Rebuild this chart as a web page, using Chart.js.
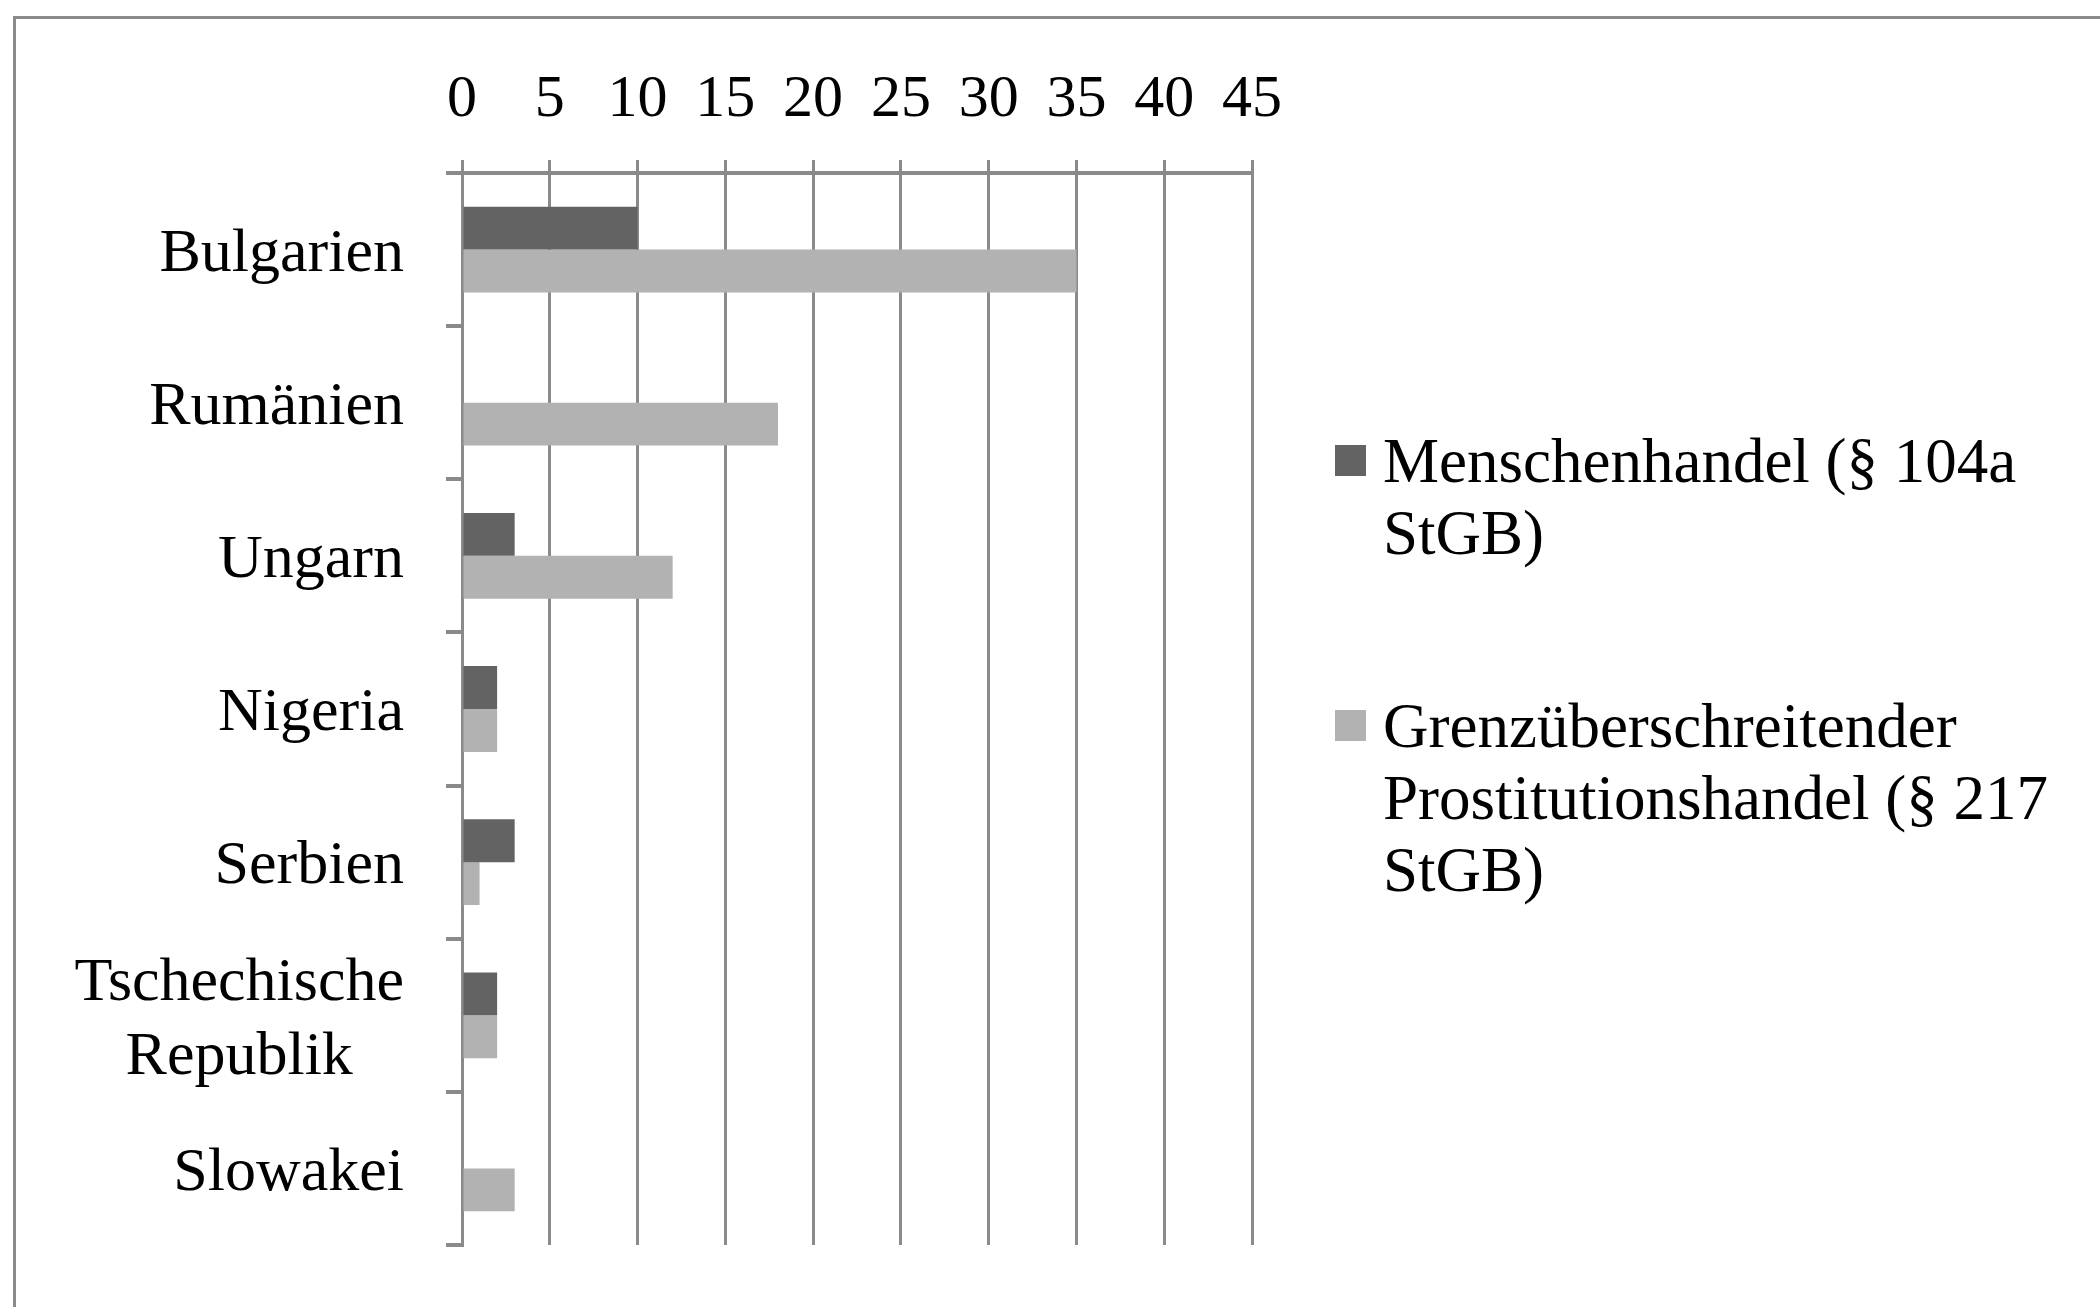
<!DOCTYPE html>
<html><head><meta charset="utf-8">
<script src="https://cdn.jsdelivr.net/npm/chart.js@4/dist/chart.umd.min.js"></script>
<style>html,body{margin:0;padding:0;background:#fff;overflow:hidden}#wrap{position:relative;width:2100px;height:1307px}</style>
</head><body><div id="wrap"><canvas id="c" width="2100" height="1307"></canvas></div>
<script>
const categories = ['Bulgarien', 'Rumänien', 'Ungarn', 'Nigeria', 'Serbien', ['Tschechische', 'Republik'], 'Slowakei'];
const menschenhandel = [10, 0, 3, 2, 3, 2, 0];
const prostitutionshandel = [35, 18, 12, 2, 1, 2, 3];
const seriesLabels = ['Menschenhandel (§ 104a StGB)', 'Grenzüberschreitender Prostitutionshandel (§ 217 StGB)'];
const legendLines = [['Menschenhandel (§ 104a', 'StGB)'], ['Grenzüberschreitender', 'Prostitutionshandel (§ 217', 'StGB)']];
const xMin = 0, xMax = 45, xStep = 5;

const FONT = '"Liberation Serif", "Times New Roman", serif';
const GRID = '#8a8a8a';

const overlay = {
  id: 'overlay',
  beforeDraw(chart) {
    const ctx = chart.ctx;
    ctx.save();
    ctx.fillStyle = '#fff';
    ctx.fillRect(0, 0, chart.width, chart.height);
    ctx.strokeStyle = GRID;
    ctx.lineWidth = 3;
    ctx.strokeRect(14.5, 17.5, 2300, 1500);
    ctx.restore();
  },
  afterDraw(chart) {
    const ctx = chart.ctx;
    const ys = chart.scales.y;
    ctx.save();
    ctx.fillStyle = '#000';
    ctx.font = '62px ' + FONT;
    ctx.textAlign = 'center';
    ctx.textBaseline = 'middle';
    const rightEdge = 404, lh = 74;
    chart.data.labels.forEach((lab, i) => {
      const lines = Array.isArray(lab) ? lab : [lab];
      const w = Math.max(...lines.map(l => ctx.measureText(l).width));
      const cx = rightEdge - w / 2;
      const cy = ys.getPixelForValue(i) + 5;
      lines.forEach((l, j) => {
        ctx.fillText(l, cx, cy + (j - (lines.length - 1) / 2) * lh);
      });
    });
    // legend
    ctx.font = '63px ' + FONT;
    ctx.textAlign = 'left';
    ctx.textBaseline = 'alphabetic';
    const firstBaselines = [482, 747];
    chart.data.datasets.forEach((ds, k) => {
      const b = firstBaselines[k];
      ctx.fillStyle = ds.backgroundColor;
      ctx.fillRect(1335, b - 37, 31, 31);
      ctx.fillStyle = '#000';
      legendLines[k].forEach((l, j) => ctx.fillText(l, 1383, b + j * 72));
    });
    ctx.restore();
  }
};

new Chart(document.getElementById('c'), {
  type: 'bar',
  data: {
    labels: categories,
    datasets: [
      { label: seriesLabels[0], data: menschenhandel, backgroundColor: '#636363', barPercentage: 1.0, categoryPercentage: 0.56 },
      { label: seriesLabels[1], data: prostitutionshandel, backgroundColor: '#b2b2b2', barPercentage: 1.0, categoryPercentage: 0.56 }
    ]
  },
  options: {
    indexAxis: 'y',
    responsive: false,
    devicePixelRatio: 1,
    animation: false,
    layout: { padding: { left: 0, top: 0, right: 848, bottom: 62 } },
    plugins: { legend: { display: false }, tooltip: { enabled: false } },
    scales: {
      x: {
        position: 'top',
        min: xMin, max: xMax,
        ticks: { stepSize: xStep, color: '#000', font: { family: FONT, size: 60 }, padding: 24, maxRotation: 0 },
        grid: { color: GRID, lineWidth: 3, tickLength: 13, drawOnChartArea: true },
        border: { display: true, color: GRID, width: 4 },
        afterFit(s) { s.height = 173; }
      },
      y: {
        ticks: { display: false },
        grid: { color: GRID, lineWidth: 4, tickLength: 16, drawOnChartArea: false, offset: true },
        border: { display: true, color: GRID, width: 3 },
        afterFit(s) { s.width = 462; }
      }
    }
  },
  plugins: [overlay]
});
</script>
</body></html>
